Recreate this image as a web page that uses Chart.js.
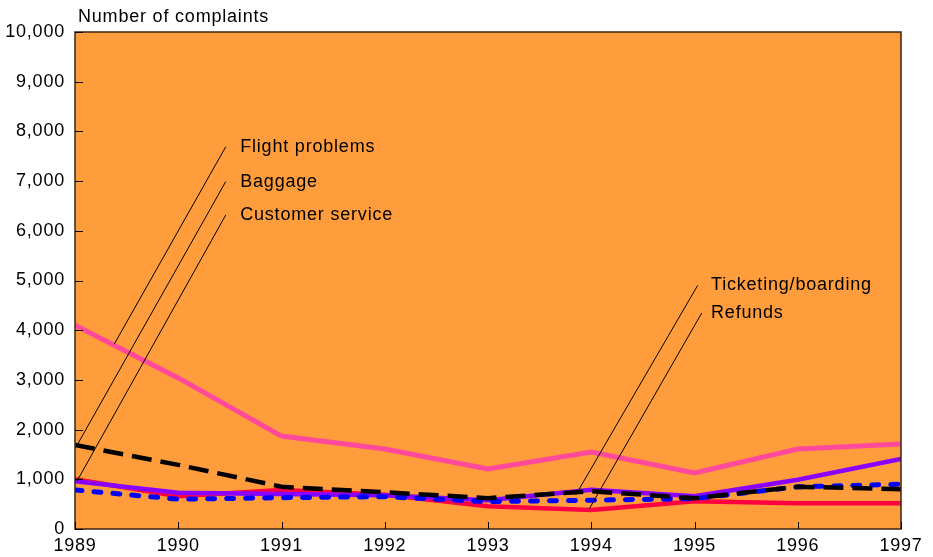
<!DOCTYPE html>
<html><head><meta charset="utf-8">
<script src="https://cdn.jsdelivr.net/npm/chart.js@4.4.1/dist/chart.umd.min.js"></script>
<style>html,body{margin:0;padding:0;background:#fff;}#wrap{width:933px;height:557px;position:relative;}</style>
</head><body><div id="wrap"><canvas id="c" width="933" height="557"></canvas></div>
<script>
const years = [1989, 1990, 1991, 1992, 1993, 1994, 1995, 1996, 1997];
const flightProblems   = [4100, 3040, 1870, 1610, 1210, 1550, 1130, 1610, 1710];
const baggage          = [1690, 1290, 850, 740, 620, 760, 620, 850, 800];
const customerService  = [960, 730, 705, 680, 580, 790, 660, 990, 1410];
const ticketing        = [785, 600, 630, 650, 550, 580, 610, 850, 900];
const refunds          = [1000, 660, 785, 690, 460, 380, 560, 520, 520];
const yTickValues = [0, 1000, 2000, 3000, 4000, 5000, 6000, 7000, 8000, 9000, 10000];
const axisTitle = 'Number of complaints';
// callout labels: leader start (lx, ly), text x (tx), leader end (ex, ey) — data coords
const callouts = [
  { text: 'Flight problems',    lx: 1990.46, ly: 7690, tx: 1990.6,  ex: 1989.38, ey: 3720 },
  { text: 'Baggage',            lx: 1990.46, ly: 6990, tx: 1990.6,  ex: 1989.01, ey: 1650 },
  { text: 'Customer service',   lx: 1990.46, ly: 6318, tx: 1990.6,  ex: 1989.02, ey: 966 },
  { text: 'Ticketing/boarding', lx: 1995.03, ly: 4900, tx: 1995.16, ex: 1993.85, ey: 684 },
  { text: 'Refunds',            lx: 1995.07, ly: 4346, tx: 1995.16, ex: 1993.98, ey: 402 }
];

const FONT = "'Liberation Sans', Arial, sans-serif";
const FS = 18;
const LS = '0.8px';
const pts = arr => years.map((y, i) => ({ x: y, y: arr[i] }));

const decor = {
  id: 'decor',
  beforeUpdate(chart) { chart.ctx.letterSpacing = LS; },
  beforeDraw(chart) {
    const { ctx, chartArea: a } = chart;
    ctx.letterSpacing = LS;
    ctx.save();
    ctx.fillStyle = '#FF9D3D';
    ctx.fillRect(a.left, a.top, a.right - a.left, a.bottom - a.top);
    ctx.restore();
  },
  afterDatasetsDraw(chart) {
    const { ctx, chartArea: a, scales: { x, y } } = chart;
    ctx.save();
    ctx.strokeStyle = '#3a2410';
    ctx.lineWidth = 1.5;
    ctx.strokeRect(a.left, a.top, a.right - a.left, a.bottom - a.top);
    ctx.strokeStyle = '#000';
    ctx.lineWidth = 1;
    ctx.beginPath();
    yTickValues.forEach(v => {
      const py = Math.round(y.getPixelForValue(v)) + 0.5;
      ctx.moveTo(a.left, py); ctx.lineTo(a.left + 8, py);
    });
    years.forEach(v => {
      const px = Math.round(x.getPixelForValue(v)) + 0.5;
      ctx.moveTo(px, a.bottom); ctx.lineTo(px, a.bottom - 7);
    });
    ctx.stroke();
    ctx.lineWidth = 1;
    ctx.strokeStyle = '#000';
    ctx.fillStyle = '#000';
    ctx.font = FS + 'px ' + FONT;
    ctx.letterSpacing = LS;
    ctx.textBaseline = 'middle';
    ctx.textAlign = 'left';
    callouts.forEach(c => {
      const sx = x.getPixelForValue(c.lx), sy = y.getPixelForValue(c.ly);
      const ex = x.getPixelForValue(c.ex), ey = y.getPixelForValue(c.ey);
      ctx.beginPath(); ctx.moveTo(sx, sy); ctx.lineTo(ex, ey); ctx.stroke();
      ctx.fillText(c.text, x.getPixelForValue(c.tx), sy);
    });
    ctx.fillText(axisTitle, a.left + 3, 17);
    ctx.restore();
  }
};

new Chart(document.getElementById('c'), {
  type: 'line',
  data: {
    datasets: [
      { label: 'Baggage', data: pts(baggage), borderColor: '#000000', borderWidth: 4.5, borderDash: [20, 9], order: 0 },
      { label: 'Ticketing/boarding', data: pts(ticketing), borderColor: '#0000FF', borderWidth: 5, borderDash: [7, 12], borderCapStyle: 'round', order: 1 },
      { label: 'Customer service', data: pts(customerService), borderColor: '#8A00FF', borderWidth: 4.5, order: 2 },
      { label: 'Refunds', data: pts(refunds), borderColor: '#FF0040', borderWidth: 4.5, order: 3 },
      { label: 'Flight problems', data: pts(flightProblems), borderColor: '#FF4A9C', borderWidth: 5, order: 4 }
    ]
  },
  options: {
    responsive: false,
    animation: false,
    devicePixelRatio: 1,
    layout: { padding: { top: 32, right: 32, left: 0, bottom: 0 } },
    elements: { point: { radius: 0, hoverRadius: 0 }, line: { tension: 0, fill: false } },
    plugins: { legend: { display: false }, tooltip: { enabled: false } },
    scales: {
      x: {
        type: 'linear', min: 1989, max: 1997,
        afterBuildTicks: s => { s.ticks = years.map(v => ({ value: v })); },
        ticks: { callback: v => String(v), color: '#000', font: { family: FONT, size: FS }, padding: 6, maxRotation: 0, autoSkip: false },
        grid: { display: false, drawTicks: false },
        border: { display: false },
        afterFit: s => { s.height = 28; }
      },
      y: {
        min: 0, max: 10000,
        afterBuildTicks: s => { s.ticks = yTickValues.map(v => ({ value: v })); },
        ticks: { callback: v => v.toLocaleString('en-US'), color: '#000', font: { family: FONT, size: FS }, padding: 10 },
        grid: { display: false, drawTicks: false },
        border: { display: false },
        afterFit: s => { s.width = 75; }
      }
    }
  },
  plugins: [decor]
});
</script>
</body></html>
